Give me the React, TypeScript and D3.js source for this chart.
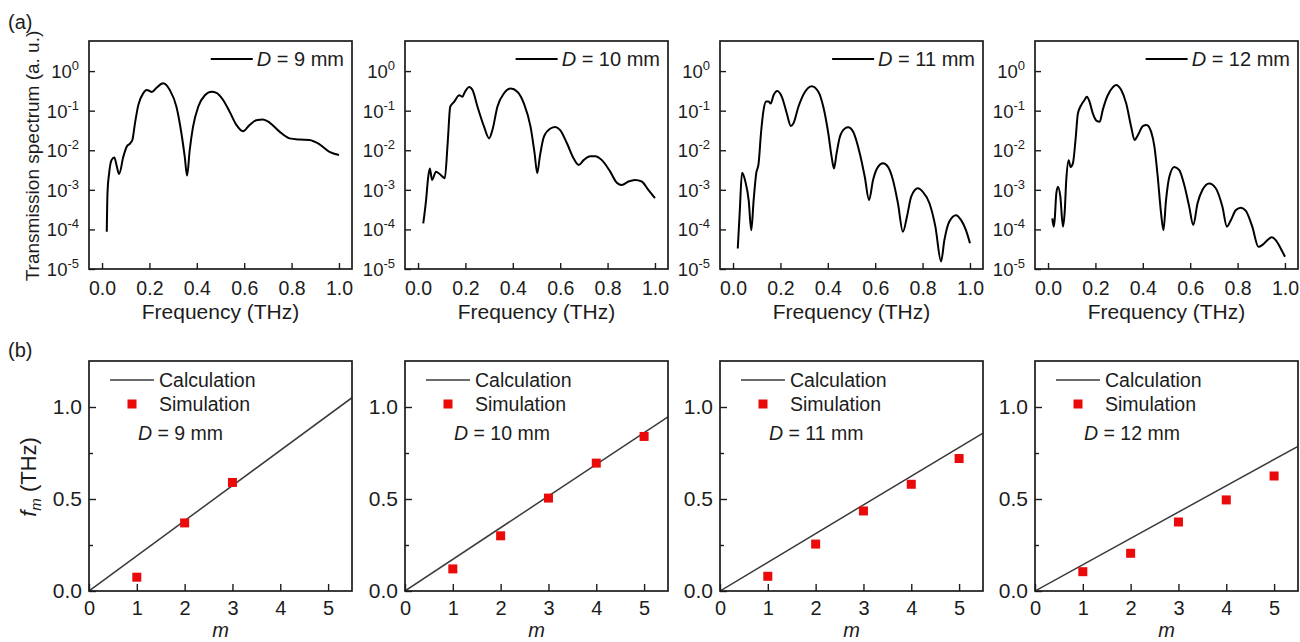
import React, { useEffect, useRef } from "react";
import * as d3 from "d3";

// cell diameters D (mm), one column of panels each
const diameters = [9, 10, 11, 12];

// transmission spectra: [frequency (THz), log10 of transmission (a. u.)]
const spec9: [number, number][] = [
  [0.02, -4.06], [0.023, -3.09], [0.03, -2.58], [0.04, -2.25], [0.052, -2.18], [0.062, -2.4], [0.072, -2.6],
  [0.09, -2.16], [0.104, -1.91], [0.118, -1.83], [0.128, -1.74], [0.139, -1.32], [0.153, -0.86], [0.174, -0.56],
  [0.188, -0.48], [0.2, -0.5], [0.21, -0.53], [0.23, -0.42], [0.258, -0.31], [0.286, -0.48], [0.314, -0.9],
  [0.335, -1.57], [0.349, -2.16], [0.359, -2.64], [0.37, -2.0], [0.384, -1.41], [0.406, -0.9], [0.434, -0.61],
  [0.462, -0.52], [0.483, -0.55], [0.511, -0.73], [0.539, -1.03], [0.567, -1.36], [0.595, -1.52], [0.623, -1.36],
  [0.651, -1.24], [0.679, -1.22], [0.707, -1.3], [0.749, -1.53], [0.791, -1.7], [0.833, -1.73], [0.875, -1.74],
  [0.918, -1.85], [0.96, -2.04], [1.0, -2.12],
];
const spec10: [number, number][] = [
  [0.022, -3.85], [0.034, -3.26], [0.043, -2.67], [0.05, -2.46], [0.059, -2.75], [0.076, -2.54], [0.097, -2.63],
  [0.113, -2.71], [0.125, -1.83], [0.136, -0.9], [0.153, -0.77], [0.174, -0.61], [0.188, -0.65], [0.195, -0.56],
  [0.216, -0.4], [0.23, -0.48], [0.251, -0.9], [0.279, -1.41], [0.3, -1.7], [0.314, -1.49], [0.335, -0.9],
  [0.363, -0.56], [0.391, -0.44], [0.419, -0.52], [0.447, -0.82], [0.475, -1.41], [0.492, -2.08], [0.503, -2.58],
  [0.514, -2.16], [0.531, -1.66], [0.559, -1.45], [0.58, -1.41], [0.6, -1.49], [0.629, -1.83], [0.657, -2.21],
  [0.678, -2.37], [0.699, -2.25], [0.727, -2.15], [0.748, -2.15], [0.776, -2.25], [0.811, -2.54], [0.839, -2.82],
  [0.86, -2.88], [0.888, -2.79], [0.916, -2.75], [0.944, -2.79], [0.972, -3.0], [1.0, -3.21],
];
const spec11: [number, number][] = [
  [0.02, -4.48], [0.028, -3.59], [0.038, -2.57], [0.052, -2.79], [0.066, -3.26], [0.077, -4.02], [0.087, -3.26],
  [0.098, -2.58], [0.108, -2.33], [0.118, -1.57], [0.129, -0.98], [0.14, -0.77], [0.15, -0.77], [0.159, -0.82],
  [0.171, -0.61], [0.187, -0.5], [0.206, -0.65], [0.227, -1.07], [0.244, -1.39], [0.255, -1.32], [0.276, -0.9],
  [0.304, -0.52], [0.332, -0.38], [0.36, -0.52], [0.381, -0.9], [0.402, -1.57], [0.416, -2.16], [0.426, -2.46],
  [0.437, -2.08], [0.451, -1.66], [0.472, -1.45], [0.486, -1.42], [0.507, -1.53], [0.535, -2.08], [0.556, -2.67],
  [0.574, -3.26], [0.591, -2.75], [0.612, -2.42], [0.633, -2.33], [0.654, -2.42], [0.675, -2.75], [0.696, -3.34],
  [0.717, -4.06], [0.734, -3.68], [0.752, -3.17], [0.78, -2.96], [0.801, -3.05], [0.829, -3.34], [0.854, -3.93],
  [0.878, -4.81], [0.892, -4.27], [0.913, -3.8], [0.941, -3.64], [0.962, -3.76], [0.983, -4.02], [1.0, -4.35],
];
const spec12: [number, number][] = [
  [0.018, -3.72], [0.024, -3.93], [0.028, -3.76], [0.035, -3.09], [0.042, -2.92], [0.052, -3.17], [0.063, -3.93],
  [0.07, -3.59], [0.077, -2.75], [0.087, -2.25], [0.095, -2.42], [0.105, -2.33], [0.116, -1.74], [0.126, -1.07],
  [0.14, -0.86], [0.154, -0.73], [0.164, -0.65], [0.175, -0.77], [0.189, -1.07], [0.204, -1.25], [0.218, -1.28],
  [0.231, -0.98], [0.252, -0.61], [0.273, -0.41], [0.287, -0.35], [0.309, -0.48], [0.33, -0.82], [0.351, -1.41],
  [0.365, -1.74], [0.379, -1.62], [0.4, -1.39], [0.416, -1.36], [0.435, -1.53], [0.449, -1.91], [0.463, -2.67],
  [0.477, -3.59], [0.487, -4.02], [0.498, -3.26], [0.512, -2.67], [0.533, -2.42], [0.554, -2.5], [0.575, -2.88],
  [0.596, -3.43], [0.613, -3.89], [0.631, -3.34], [0.652, -3.0], [0.68, -2.84], [0.708, -2.96], [0.736, -3.43],
  [0.755, -3.93], [0.772, -3.76], [0.793, -3.51], [0.814, -3.45], [0.835, -3.53], [0.862, -3.93], [0.888, -4.44],
  [0.905, -4.39], [0.926, -4.27], [0.944, -4.2], [0.961, -4.27], [0.982, -4.48], [1.0, -4.69],
];
const spectra = [spec9, spec10, spec11, spec12];

// mode frequencies f_m (THz) from simulation, and slope of the calculated line
const modeNumbers = [[1, 2, 3], [1, 2, 3, 4, 5], [1, 2, 3, 4, 5], [1, 2, 3, 4, 5]];
const simFreq = [
  [0.075, 0.37, 0.59],
  [0.12, 0.3, 0.505, 0.695, 0.84],
  [0.08, 0.255, 0.435, 0.58, 0.72],
  [0.105, 0.205, 0.375, 0.495, 0.625],
];
const calcSlope = [0.191, 0.172, 0.156, 0.143];

const freqTicks = [0, 0.2, 0.4, 0.6, 0.8, 1.0];
const decadeTicks = [0, -1, -2, -3, -4, -5];
const mTicks = [0, 1, 2, 3, 4, 5];
const fTicks = [0, 0.5, 1.0];
const fMinorTicks = [0.25, 0.75];

const W = 1300;
const H = 642;
const FONT = "'Liberation Sans', Arial, Helvetica, sans-serif";
const INK = "#1c1c1c";
const RED = "#ea0a0a";

const lefts = [89, 405, 720, 1035];
const PW = 263;
const topRow = { y0: 41, y1: 269 };
const botRow = { y0: 361, y1: 591 };

export default function App() {
  const ref = useRef<SVGSVGElement>(null);

  useEffect(() => {
    const svg = d3.select(ref.current);
    svg.selectAll("*").remove();
    svg.attr("font-family", FONT);

    svg.append("text").attr("x", 8).attr("y", 29).attr("font-size", 20).attr("fill", INK).text("(a)");
    svg.append("text").attr("x", 8).attr("y", 357).attr("font-size", 20).attr("fill", INK).text("(b)");

    diameters.forEach((D, i) => {
      const left = lefts[i];
      const right = left + PW;

      // ---------- (a) spectra ----------
      const x = d3.scaleLinear().domain([-0.055, 1.055]).range([left, right]);
      const y = d3.scaleLog().domain([1e-5, Math.pow(10, 0.76)]).range([topRow.y1, topRow.y0]);
      const g = svg.append("g");

      const line = d3.line<[number, number]>()
        .x(d => x(d[0]))
        .y(d => y(Math.pow(10, d[1])))
        .curve(d3.curveMonotoneX);
      g.append("path")
        .datum(spectra[i])
        .attr("d", line)
        .attr("fill", "none")
        .attr("stroke", "#000")
        .attr("stroke-width", 2)
        .attr("stroke-linejoin", "round");

      const xa = g.append("g")
        .attr("transform", `translate(0,${topRow.y1})`)
        .style("color", INK)
        .call(d3.axisBottom(x).tickValues(freqTicks).tickSize(-6).tickSizeOuter(0).tickPadding(12).tickFormat(d3.format(".1f")));
      xa.select(".domain").remove();
      xa.selectAll("text").attr("font-size", 19.5).attr("font-family", FONT);
      xa.selectAll("line").attr("stroke-width", 1.4);

      const ya = g.append("g")
        .attr("transform", `translate(${left},0)`)
        .style("color", INK)
        .call(d3.axisLeft(y).tickValues(decadeTicks.map(e => Math.pow(10, e))).tickSize(-6).tickSizeOuter(0).tickFormat(() => ""));
      ya.select(".domain").remove();
      ya.selectAll("line").attr("stroke-width", 1.4);

      decadeTicks.forEach(e => {
        const t = g.append("text")
          .attr("x", left - 10)
          .attr("y", y(Math.pow(10, e)) + 7)
          .attr("text-anchor", "end")
          .attr("font-size", 18.5)
          .attr("fill", INK);
        t.append("tspan").text("10");
        t.append("tspan").attr("dy", -8).attr("font-size", 13).text(String(e));
      });

      g.append("rect")
        .attr("x", left).attr("y", topRow.y0)
        .attr("width", PW).attr("height", topRow.y1 - topRow.y0)
        .attr("fill", "none").attr("stroke", INK).attr("stroke-width", 1.7);

      // legend
      const lg = g.append("text")
        .attr("x", right - 8).attr("y", 66)
        .attr("text-anchor", "end").attr("font-size", 20).attr("fill", INK);
      lg.append("tspan").attr("font-style", "italic").text("D");
      lg.append("tspan").text(` = ${D} mm`);
      const lw = (lg.node() as SVGTextElement).getComputedTextLength();
      const lx = right - 8 - lw - 4;
      g.append("line")
        .attr("x1", lx - 42).attr("x2", lx)
        .attr("y1", 59).attr("y2", 59)
        .attr("stroke", "#000").attr("stroke-width", 2);

      g.append("text")
        .attr("x", (left + right) / 2).attr("y", 319)
        .attr("text-anchor", "middle").attr("font-size", 21).attr("fill", INK)
        .text("Frequency (THz)");

      // ---------- (b) mode frequencies ----------
      const mx = d3.scaleLinear().domain([0, 5.5]).range([left, right]);
      const fy = d3.scaleLinear().domain([0, 1.25]).range([botRow.y1, botRow.y0]);
      const b = svg.append("g");

      b.append("clipPath").attr("id", `clip-b${i}`)
        .append("rect").attr("x", left).attr("y", botRow.y0)
        .attr("width", PW).attr("height", botRow.y1 - botRow.y0);

      b.append("line")
        .attr("clip-path", `url(#clip-b${i})`)
        .attr("x1", mx(0)).attr("y1", fy(0))
        .attr("x2", mx(5.5)).attr("y2", fy(calcSlope[i] * 5.5))
        .attr("stroke", "#3a3a3a").attr("stroke-width", 1.5);

      const bx = b.append("g")
        .attr("transform", `translate(0,${botRow.y1})`)
        .style("color", INK)
        .call(d3.axisBottom(mx).tickValues(mTicks).tickSize(-7).tickSizeOuter(0).tickPadding(9.5).tickFormat(d3.format("d")));
      bx.select(".domain").remove();
      bx.selectAll("text").attr("font-size", 20).attr("font-family", FONT);
      bx.selectAll("line").attr("stroke-width", 1.4);

      const by = b.append("g")
        .attr("transform", `translate(${left},0)`)
        .style("color", INK)
        .call(d3.axisLeft(fy).tickValues(fTicks).tickSize(-7).tickSizeOuter(0).tickPadding(7).tickFormat(d3.format(".1f")));
      by.select(".domain").remove();
      by.selectAll("text").attr("font-size", 21).attr("font-family", FONT);
      by.selectAll("line").attr("stroke-width", 1.4);

      const bym = b.append("g")
        .attr("transform", `translate(${left},0)`)
        .style("color", INK)
        .call(d3.axisLeft(fy).tickValues(fMinorTicks).tickSize(-4).tickSizeOuter(0).tickFormat(() => ""));
      bym.select(".domain").remove();
      bym.selectAll("line").attr("stroke-width", 1.4);

      b.selectAll("rect.sim")
        .data(modeNumbers[i].map((m, k) => [m, simFreq[i][k]]))
        .enter().append("rect")
        .attr("class", "sim")
        .attr("x", d => mx(d[0]) - 4.5)
        .attr("y", d => fy(d[1]) - 4.5)
        .attr("width", 9).attr("height", 9)
        .attr("fill", RED);

      b.append("rect")
        .attr("x", left).attr("y", botRow.y0)
        .attr("width", PW).attr("height", botRow.y1 - botRow.y0)
        .attr("fill", "none").attr("stroke", INK).attr("stroke-width", 1.7);

      // legend
      b.append("line")
        .attr("x1", left + 21).attr("x2", left + 65)
        .attr("y1", 380).attr("y2", 380)
        .attr("stroke", "#3a3a3a").attr("stroke-width", 1.5);
      b.append("text").attr("x", left + 70).attr("y", 387)
        .attr("font-size", 19.5).attr("fill", INK).text("Calculation");
      b.append("rect")
        .attr("x", left + 43 - 4.5).attr("y", 404 - 4.5)
        .attr("width", 9).attr("height", 9).attr("fill", RED);
      b.append("text").attr("x", left + 70).attr("y", 411)
        .attr("font-size", 19.5).attr("fill", INK).text("Simulation");
      const dl = b.append("text").attr("x", left + 49).attr("y", 440)
        .attr("font-size", 19.5).attr("fill", INK);
      dl.append("tspan").attr("font-style", "italic").text("D");
      dl.append("tspan").text(` = ${D} mm`);

      b.append("text")
        .attr("x", (left + right) / 2).attr("y", 637)
        .attr("text-anchor", "middle").attr("font-size", 20)
        .attr("font-style", "italic").attr("fill", INK)
        .text("m");
    });

    // y axis titles
    svg.append("text")
      .attr("transform", "translate(39,156) rotate(-90)")
      .attr("text-anchor", "middle").attr("font-size", 19).attr("fill", INK)
      .text("Transmission spectrum (a. u.)");

    const ft = svg.append("text")
      .attr("transform", "translate(36,477) rotate(-90)")
      .attr("text-anchor", "middle").attr("font-size", 22).attr("fill", INK);
    ft.append("tspan").attr("font-style", "italic").text("f");
    ft.append("tspan").attr("font-style", "italic").attr("font-size", 15).attr("dy", 5).text("m");
    ft.append("tspan").attr("dy", -5).text(" (THz)");
  }, []);

  return (
    <svg
      ref={ref}
      width={W}
      height={H}
      style={{ position: "absolute", left: 0, top: 0, background: "#fff" }}
    />
  );
}
